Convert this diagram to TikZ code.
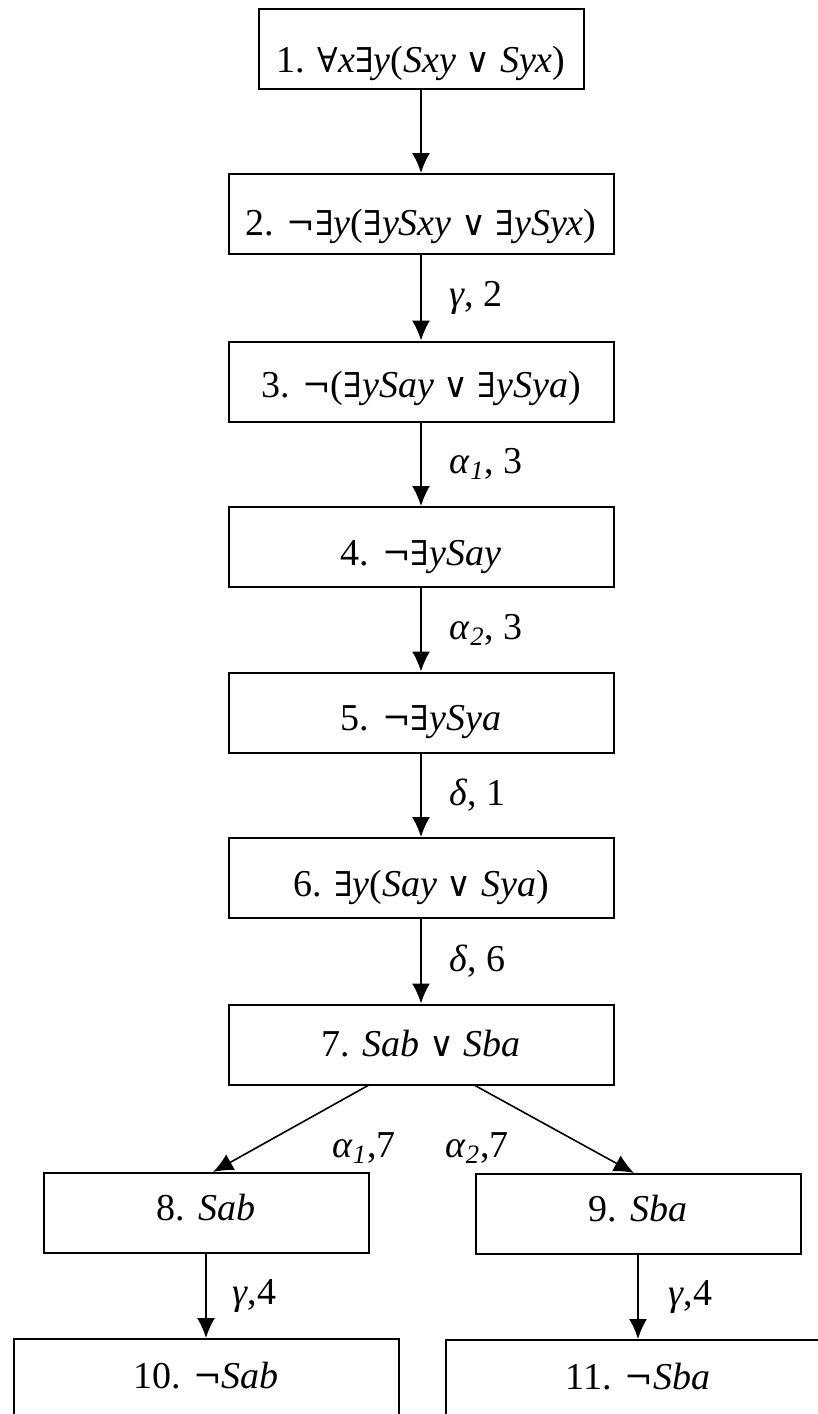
\documentclass[tikz,border=0pt]{standalone}
\usepackage{fontspec}
\setmainfont{Liberation Serif}
\newfontfamily\logicfont{DejaVu Serif}[Scale=0.9]
\usepackage{tikz}
\usetikzlibrary{arrows.meta}
\usetikzlibrary{positioning}

\newcommand{\fall}{{\logicfont ∀}}
\newcommand{\fex}{{\logicfont ∃}}
\newcommand{\fdisj}{{\logicfont ∨}}
\newcommand{\fneg}{{\logicfont ¬}}

\begin{document}
\begin{tikzpicture}[x=0.5pt,y=-0.5pt]

  \tikzset{frm/.style = {draw, line width=1pt, minimum height=40pt, inner sep=0pt,
      text height=22pt, text depth=4pt, font=\fontsize{19}{23}\selectfont}}
  \tikzset{wide/.style = {frm, minimum width=192.5pt}}
  \tikzset{narrow/.style = {frm, minimum width=162.5pt}}
  \tikzset{link/.style = {-{Latex[length=10pt,width=9pt]}, line width=0.8pt}}
  \tikzset{lbl/.style = {inner sep=0pt, font=\fontsize{19}{23}\selectfont}}

  \useasboundingbox (0,0) rectangle (818,1414);
  \clip (0,0) rectangle (818,1414);

  % formulas
  \node[narrow,text height=27pt] (n1) at (421,49) {1. \fall\textit{x}\fex\textit{y}(\textit{Sxy} \fdisj{} \textit{Syx})};
  \node[wide,text height=25pt] (n2) at (421,214) {2. \fneg\fex\textit{y}(\fex\textit{ySxy} \fdisj{} \fex\textit{ySyx})};
  \node[wide,text height=20pt] (n3) at (421,381.5) {3. \fneg(\fex\textit{ySay} \fdisj{} \fex\textit{ySya})};
  \node[wide] (n4) at (421,547) {4. \fneg\fex\textit{ySay}};
  \node[wide] (n5) at (421,712.5) {5. \fneg\fex\textit{ySya}};
  \node[wide] (n6) at (421,878) {6. \fex\textit{y}(\textit{Say} \fdisj{} \textit{Sya})};
  \node[wide,text height=16pt] (n7) at (421,1044.5) {7. \textit{Sab} \fdisj{} \textit{Sba}};
  \node[narrow,text height=11pt] (n8) at (206,1213) {8. \textit{Sab}};
  \node[narrow,text height=11pt] (n9) at (638,1214) {9. \textit{Sba}};
  \node[wide,text height=13pt] (n10) at (206,1379) {10. \fneg\textit{Sab}};
  \node[wide,text height=13pt] (n11) at (638,1380) {11. \fneg\textit{Sba}};

  % rules
  \draw[link] (n1) -- (n2);
  \draw[link] (n2) -- node[lbl,midway,right=14pt] {\textit{γ}, 2} (n3);
  \draw[link] (n3) -- node[lbl,midway,right=14pt] {\textit{α}\textsubscript{\textit{1}}, 3} (n4);
  \draw[link] (n4) -- node[lbl,midway,right=14pt] {\textit{α}\textsubscript{\textit{2}}, 3} (n5);
  \draw[link] (n5) -- node[lbl,midway,right=14pt] {\textit{δ}, 1} (n6);
  \draw[link] (n6) -- node[lbl,midway,right=14pt] {\textit{δ}, 6} (n7);
  \draw[link] ([xshift=-26.5pt]n7.south) -- ([xshift=3.5pt]n8.north);
  \draw[link] ([xshift=27pt]n7.south) -- ([xshift=-2pt]n9.north);
  \node[lbl] (a1) at (364,1148) {\textit{α}\textsubscript{\textit{1}},7};
  \node[lbl] (a2) at (477,1148) {\textit{α}\textsubscript{\textit{2}},7};
  \draw[link] (n8) -- node[lbl,midway,right=13pt] {\textit{γ},4} (n10);
  \draw[link] (n9) -- node[lbl,midway,right=15pt] {\textit{γ},4} (n11);
\end{tikzpicture}
\end{document}
